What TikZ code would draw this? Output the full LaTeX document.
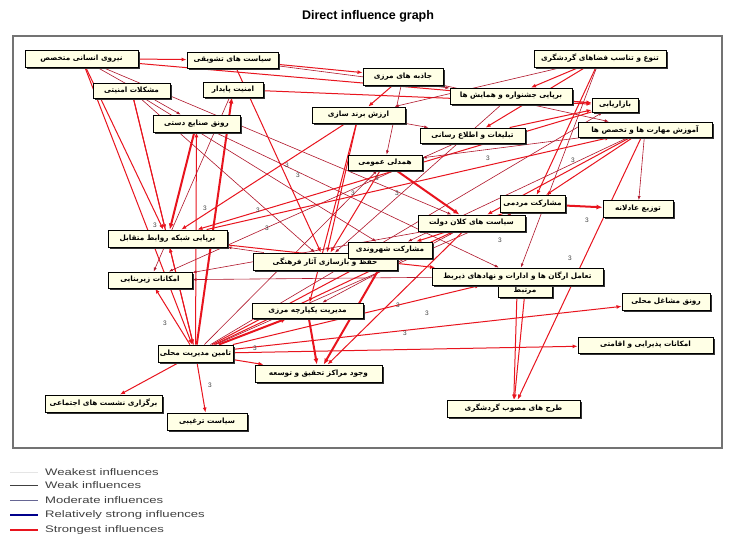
\documentclass[tikz,border=0pt]{standalone}
\usepackage{fontspec}
\setmainfont{Liberation Sans}
\newfontfamily\fa[Script=Arabic]{DejaVu Sans}
\newfontfamily\lgfont[FakeStretch=1.38]{Liberation Sans}
\TeXXeTstate=1
\usetikzlibrary{arrows.meta,shadows}
\pgfdeclarelayer{bgl}\pgfdeclarelayer{edl}
\pgfsetlayers{bgl,edl,main}
\definecolor{cream}{HTML}{FFFFE6}
\definecolor{ered}{HTML}{E8141E}
\definecolor{dred}{HTML}{B0152A}
\newcommand\fat[1]{\beginR #1\endR}
\tikzset{
 nd/.style={draw=black, line width=0.9pt, fill=cream, inner sep=1pt, text=black,
   font=\fa\bfseries\fontsize{7.3}{8}\selectfont,
   drop shadow={shadow xshift=2pt, shadow yshift=-2pt, opacity=1, fill=black!80}},
 es/.style={draw=ered, line width=2pt, -{Latex[length=6pt,width=5pt]}},
 em/.style={draw=ered, line width=1pt, -{Latex[length=5pt,width=4pt]}},
 ew/.style={draw=dred, line width=0.6pt, -{Latex[length=4pt,width=3pt]}},
 wl/.style={font=\fontsize{6.5}{6.5}\selectfont, text=black!75, inner sep=0pt},
 lg/.style={anchor=west, font=\lgfont\fontsize{9.5}{10}\selectfont, text=black!75, inner sep=0pt},
}
\begin{document}
\begin{tikzpicture}[x=1pt,y=-1pt]
\useasboundingbox (0,0) rectangle (729,540);
\node[font=\bfseries\fontsize{12.5}{13}\selectfont] (title) at (368,16) {Direct influence graph};
\begin{pgfonlayer}{bgl}
\draw[black!55, line width=1.5pt, fill=white] (13,36) rectangle (722,448);
\end{pgfonlayer}

% nodes
\node[nd, minimum width=113pt, minimum height=17pt] (nA) at (81.5,58.5) {\fat{نیروی انسانی متخصص}};
\node[nd, minimum width=91pt, minimum height=16pt] (nB) at (232.5,60) {\fat{سیاست های تشویقی}};
\node[nd, minimum width=132pt, minimum height=17pt] (nC) at (600,58.5) {\fat{تنوع و تناسب فضاهای گردشگری}};
\node[nd, minimum width=80pt, minimum height=17pt] (nD) at (403,76.5) {\fat{جاذبه های مرزی}};
\node[nd, minimum width=77pt, minimum height=15pt] (nE) at (131.5,90.5) {\fat{مشکلات امنیتی}};
\node[nd, minimum width=60pt, minimum height=15pt] (nF) at (233,89.5) {\fat{امنیت پایدار}};
\node[nd, minimum width=122pt, minimum height=16pt] (nG) at (511,96) {\fat{برپایی جشنواره و همایش ها}};
\node[nd, minimum width=87pt, minimum height=17pt] (nH) at (196.5,123.5) {\fat{رونق صنایع دستی}};
\node[nd, minimum width=93pt, minimum height=16pt] (nI) at (358.5,115) {\fat{ارزش برند سازی}};
\node[nd, minimum width=105pt, minimum height=15pt] (nJ) at (472.5,135.5) {\fat{تبلیغات و اطلاع رسانی}};
\node[nd, minimum width=46pt, minimum height=14pt] (nK) at (615,105) {\fat{بازاریابی}};
\node[nd, minimum width=134pt, minimum height=15pt] (nL) at (645,129.5) {\fat{آموزش مهارت ها و تخصص ها}};
\node[nd, minimum width=74pt, minimum height=15pt] (nM) at (385,162.5) {\fat{همدلی عمومی}};
\node[nd, minimum width=65pt, minimum height=17pt] (nN) at (532.5,204) {\fat{مشارکت مردمی}};
\node[nd, minimum width=70pt, minimum height=17pt] (nO) at (638,209) {\fat{توزیع عادلانه}};
\node[nd, minimum width=107pt, minimum height=16pt] (nP) at (471.5,223) {\fat{سیاست های کلان دولت}};
\node[nd, minimum width=119pt, minimum height=17pt] (nQ) at (167.5,238.5) {\fat{برپایی شبکه روابط متقابل}};
\node[nd, minimum width=144pt, minimum height=17pt] (nS) at (325,261.5) {\fat{حفظ و بازسازی آثار فرهنگی}};
\node[nd, minimum width=84pt, minimum height=16pt] (nR) at (390,250) {\fat{مشارکت شهروندی}};
\node[nd, minimum width=84pt, minimum height=16pt] (nT) at (150,280) {\fat{امکانات زیربنایی}};
\node[nd, minimum width=54pt, minimum height=13pt] (nU2) at (525,291) {\fat{مرتبط}};
\node[nd, minimum width=171pt, minimum height=17pt] (nU) at (517.5,276.5) {\fat{تعامل ارگان ها و ادارات و نهادهای ذیربط}};
\node[nd, minimum width=111pt, minimum height=15pt] (nV) at (307.5,310.5) {\fat{مدیریت یکپارچه مرزی}};
\node[nd, minimum width=88pt, minimum height=17pt] (nW) at (666,301.5) {\fat{رونق مشاغل محلی}};
\node[nd, minimum width=135pt, minimum height=16pt] (nX) at (645.5,345) {\fat{امکانات پذیرایی و اقامتی}};
\node[nd, minimum width=75pt, minimum height=17pt] (nY) at (195.5,353.5) {\fat{تامین مدیریت محلی}};
\node[nd, minimum width=127pt, minimum height=17pt] (nZ) at (318.5,373.5) {\fat{وجود مراکز تحقیق و توسعه}};
\node[nd, minimum width=117pt, minimum height=17pt] (nAA) at (103.5,403.5) {\fat{برگزاری نشست های اجتماعی}};
\node[nd, minimum width=80pt, minimum height=17pt] (nAB) at (207,421.5) {\fat{سیاست ترغیبی}};
\node[nd, minimum width=133pt, minimum height=17pt] (nAC) at (513.5,408.5) {\fat{طرح های مصوب گردشگری}};

% edges
\begin{pgfonlayer}{edl}
\draw[em] (nY) -- (nAA);
\draw[em] (nY) -- (nAB);
\draw[em] (nY) -- (nX);
\draw[em] (nY) -- (nW);
\draw[em] (nY) -- (nZ);
\draw[es] (nY) -- (nV);
\draw[em] (nY) -- (nU);
\draw[em] (nY) -- (nR);
\draw[em] (nY) -- (nP);
\draw[ew] (nY) -- (nN);
\draw[es] (nY) -- (nF);
\draw[em] (nY) -- (nH);
\draw[em] (nY) -- (nQ);
\draw[em] (nY) -- (nT);
\draw[ew] (nY) -- (nM);
\draw[ew] (nY) -- (nK);
\draw[em] (nA) -- (nY);
\draw[em] (nE) -- (nY);
\draw[em] (nA) -- (nB);
\draw[em] (nA) -- (nK);
\draw[ew] (nA) -- (nH);
\draw[ew] (nA) -- (nP);
\draw[em] (nA) -- (nQ);
\draw[em] (nE) -- (nQ);
\draw[ew] (nE) -- (nS);
\draw[ew] (nE) -- (nR);
\draw[em] (nB) -- (nD);
\draw[ew] (nB) -- (nG);
\draw[em] (nB) -- (nS);
\draw[em] (nF) -- (nK);
\draw[ew] (nF) -- (nT);
\draw[es] (nH) -- (nQ);
\draw[ew] (nH) -- (nU);
\draw[em] (nI) -- (nS);
\draw[em] (nI) -- (nV);
\draw[em] (nI) -- (nQ);
\draw[ew] (nI) -- (nJ);
\draw[em] (nD) -- (nI);
\draw[ew] (nD) -- (nM);
\draw[ew] (nD) -- (nL);
\draw[em] (nC) -- (nG);
\draw[em] (nC) -- (nJ);
\draw[em] (nC) -- (nN);
\draw[ew] (nC) -- (nU);
\draw[ew] (nC) -- (nI);
\draw[em] (nG) -- (nK);
\draw[ew] (nG) -- (nS);
\draw[em] (nJ) -- (nK);
\draw[ew] (nJ) -- (nT);
\draw[em] (nL) -- (nAC);
\draw[em] (nL) -- (nN);
\draw[em] (nL) -- (nP);
\draw[em] (nK) -- (nQ);
\draw[ew] (nL) -- (nR);
\draw[ew] (nL) -- (nM);
\draw[ew] (nL) -- (nO);
\draw[es] (nM) -- (nP);
\draw[em] (nM) -- (nS);
\draw[es] (nN) -- (nO);
\draw[em] (nN) -- (nR);
\draw[em] (nP) -- (nZ);
\draw[ew] (nP) -- (nV);
\draw[ew] (nP) -- (nT);
\draw[es] (nV) -- (nZ);
\draw[es] (nR) -- (nZ);
\draw[ew] (nS) -- (nQ);
\draw[em] (nU) -- (nAC);
\draw[em] (nU2) -- (nAC);
\draw[ew] (nU) -- (nT);
\draw[em] (nQ) -- (nU);
\draw[em] (nQ) -- (nL);
\end{pgfonlayer}

% weight labels
\foreach \x/\y [count=\i] in {155/225,165/323,210/385,398/305,427/313,405/333,255/348,287/165,298/175,377/178,397/193,258/210,267/228,587/220,570/258,500/240,488/158,573/160,205/208,353/193}
  \node[wl] (w\i) at (\x,\y) {3};

% legend
\draw[black!10, line width=0.6pt] (10,472) -- (38,472);
\draw[black!75, line width=0.6pt] (10,485) -- (38,485);
\draw[blue!30!black!60, line width=0.8pt] (10,500) -- (38,500);
\draw[blue!55!black, line width=1.6pt] (10,515) -- (38,515);
\draw[ered, line width=1.6pt] (10,530) -- (38,530);
\node[lg] (lg1) at (45,472) {Weakest influences};
\node[lg] (lg2) at (45,485) {Weak influences};
\node[lg] (lg3) at (45,500) {Moderate influences};
\node[lg] (lg4) at (45,515) {Relatively strong influences};
\node[lg] (lg5) at (45,530) {Strongest influences};
\end{tikzpicture}
\end{document}
